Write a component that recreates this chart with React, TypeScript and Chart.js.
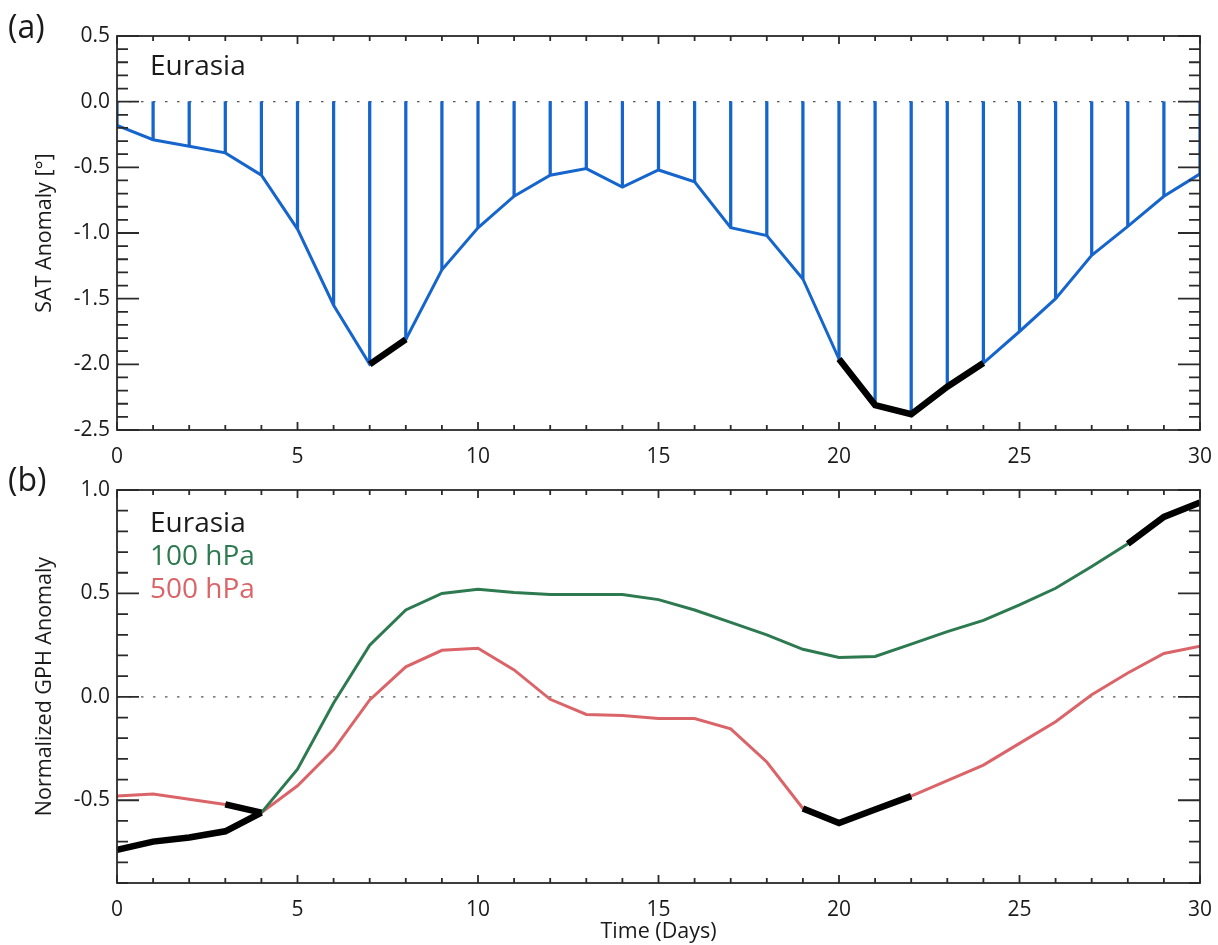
import React, { useEffect, useRef } from "react";
import { Chart, registerables } from "chart.js";

Chart.register(...registerables);

// ---------------- data ----------------
const days = [0, 1, 2, 3, 4, 5, 6, 7, 8, 9, 10, 11, 12, 13, 14, 15, 16, 17, 18, 19, 20, 21, 22, 23, 24, 25, 26, 27, 28, 29, 30];

const satAnomaly = [
  -0.18, -0.29, -0.34, -0.39, -0.56, -0.97, -1.55, -2.0, -1.81, -1.28,
  -0.96, -0.72, -0.56, -0.51, -0.65, -0.52, -0.61, -0.96, -1.02, -1.35,
  -1.96, -2.31, -2.38, -2.17, -1.99, -1.75, -1.5, -1.17, -0.95, -0.72, -0.55,
];

const gph100 = [
  -0.74, -0.7, -0.68, -0.65, -0.56, -0.35, -0.03, 0.25, 0.42, 0.5,
  0.52, 0.505, 0.495, 0.495, 0.495, 0.47, 0.42, 0.36, 0.3, 0.23,
  0.19, 0.195, 0.255, 0.315, 0.37, 0.445, 0.525, 0.63, 0.74, 0.87, 0.94,
];

const gph500 = [
  -0.48, -0.47, -0.495, -0.52, -0.56, -0.43, -0.255, -0.015, 0.145, 0.225,
  0.235, 0.13, -0.012, -0.085, -0.09, -0.105, -0.105, -0.155, -0.315, -0.54,
  -0.61, -0.545, -0.48, -0.405, -0.33, -0.225, -0.12, 0.01, 0.115, 0.21, 0.245,
];

// highlighted (significant) day ranges [start, end]
const satHighlight = [[7, 8], [20, 24]];
const gph100Highlight = [[0, 4], [28, 30]];
const gph500Highlight = [[3, 4], [19, 22]];

const xTickLabels = [0, 5, 10, 15, 20, 25, 30];
const satTickLabels = [-2.5, -2.0, -1.5, -1.0, -0.5, 0.0, 0.5];
const gphTickLabels = [-0.5, 0.0, 0.5, 1.0];

// ---------------- styling ----------------
const FONT = "'Open Sans', 'Noto Sans', 'DejaVu Sans', sans-serif";
const BLUE = "#1565cd";
const GREEN = "#2e7a50";
const RED = "#db6469";
const INK = "#1a1a1a";

const pts = (vals: number[]) => days.map((d) => ({ x: d, y: vals[d] }));
const seg = (vals: number[], r: number[]) =>
  days.filter((d) => d >= r[0] && d <= r[1]).map((d) => ({ x: d, y: vals[d] }));

// frame, inward ticks on all four sides, dotted zero line
const frameTicksPlugin = {
  id: "frameTicks",
  beforeDatasetsDraw(chart: any) {
    const { ctx, chartArea: a, scales } = chart;
    const y0 = scales.y.getPixelForValue(0);
    ctx.save();
    ctx.strokeStyle = "#555";
    ctx.lineWidth = 1.2;
    ctx.setLineDash([2.5, 9.5]);
    ctx.beginPath();
    ctx.moveTo(a.left, y0);
    ctx.lineTo(a.right, y0);
    ctx.stroke();
    ctx.restore();
  },
  afterDatasetsDraw(chart: any, _args: any, o: any) {
    const { ctx, chartArea: a, scales } = chart;
    const xs = scales.x;
    const ys = scales.y;
    ctx.save();
    ctx.strokeStyle = "#2a2a2a";
    ctx.lineWidth = 1.8;
    ctx.setLineDash([]);
    ctx.beginPath();
    for (let i = Math.round(xs.min); i <= Math.round(xs.max); i++) {
      const px = xs.getPixelForValue(i);
      const len = i % 5 === 0 ? o.xMajor : o.xMinor;
      ctx.moveTo(px, a.bottom);
      ctx.lineTo(px, a.bottom - len);
      ctx.moveTo(px, a.top);
      ctx.lineTo(px, a.top + len);
    }
    for (let i = Math.round(ys.min * 10); i <= Math.round(ys.max * 10); i++) {
      const py = ys.getPixelForValue(i / 10);
      const len = i % 5 === 0 ? o.yMajor : o.yMinor;
      ctx.moveTo(a.left, py);
      ctx.lineTo(a.left + len, py);
      ctx.moveTo(a.right, py);
      ctx.lineTo(a.right - len, py);
    }
    ctx.stroke();
    ctx.strokeRect(a.left, a.top, a.right - a.left, a.bottom - a.top);
    ctx.restore();
  },
};

// free text annotations
const textPlugin = {
  id: "texts",
  afterDraw(chart: any, _args: any, o: any) {
    const { ctx } = chart;
    ctx.save();
    for (const t of o.items || []) {
      ctx.font = t.font;
      ctx.fillStyle = t.color;
      ctx.textAlign = "left";
      ctx.textBaseline = "alphabetic";
      ctx.fillText(t.text, t.x, t.y);
    }
    ctx.restore();
  },
};

const tickFont = { family: FONT, size: 21 };
const titleFont = { family: FONT, size: 21.5 };

function xScale(height: number, title?: string) {
  return {
    type: "linear",
    min: 0,
    max: 30,
    offset: false,
    grid: { display: false, drawTicks: false },
    border: { display: false },
    ticks: { font: tickFont, color: INK, padding: 14, maxRotation: 0, autoSkip: false },
    afterBuildTicks: (s: any) => {
      s.ticks = xTickLabels.map((v) => ({ value: v }));
    },
    afterFit: (s: any) => {
      s.height = height;
      s.paddingLeft = 0;
      s.paddingRight = 0;
    },
    title: title
      ? { display: true, text: title, font: titleFont, color: INK, padding: { top: 0, bottom: 0 } }
      : { display: false },
  };
}

function yScale(min: number, max: number, ticks: number[], title: string) {
  return {
    type: "linear",
    min,
    max,
    grid: { display: false, drawTicks: false },
    border: { display: false },
    ticks: {
      font: tickFont,
      color: INK,
      padding: 7,
      callback: (v: any) => Number(v).toFixed(1),
    },
    afterBuildTicks: (s: any) => {
      s.ticks = ticks.map((v) => ({ value: v }));
    },
    afterFit: (s: any) => {
      s.width = 117;
      s.paddingTop = 0;
      s.paddingBottom = 0;
    },
    title: { display: true, text: title, font: titleFont, color: INK, padding: { top: 32, bottom: 0 } },
  };
}

const thick = (data: any[], color = "#000") => ({
  type: "line",
  data,
  borderColor: color,
  borderWidth: 6.5,
  pointRadius: 0,
  tension: 0,
  borderCapStyle: "butt",
  borderJoinStyle: "miter",
  order: 0,
});

function configA(): any {
  return {
    type: "line",
    data: {
      datasets: [
        ...satHighlight.map((r) => thick(seg(satAnomaly, r))),
        {
          type: "line",
          data: pts(satAnomaly),
          borderColor: BLUE,
          borderWidth: 3,
          pointRadius: 0,
          tension: 0,
          order: 1,
        },
        {
          type: "bar",
          data: pts(satAnomaly),
          backgroundColor: BLUE,
          borderWidth: 0,
          barThickness: 2.6,
          order: 2,
        },
      ],
    },
    plugins: [frameTicksPlugin, textPlugin],
    options: {
      responsive: false,
      animation: false,
      events: [],
      layout: { padding: { left: 0, right: 18, top: 36, bottom: 0 } },
      scales: {
        x: xScale(42),
        y: yScale(-2.5, 0.5, satTickLabels, "SAT Anomaly [°]"),
      },
      plugins: {
        legend: { display: false },
        tooltip: { enabled: false },
        frameTicks: { xMajor: 8, xMinor: 5, yMajor: 22, yMinor: 11 },
        texts: {
          items: [
            { text: "(a)", x: 8, y: 38, font: `32px ${FONT}`, color: INK },
            { text: "Eurasia", x: 150, y: 75, font: `28px ${FONT}`, color: INK },
          ],
        },
      },
    },
  };
}

function configB(): any {
  return {
    type: "line",
    data: {
      datasets: [
        ...gph100Highlight.map((r) => thick(seg(gph100, r))),
        ...gph500Highlight.map((r) => thick(seg(gph500, r))),
        {
          type: "line",
          data: pts(gph100),
          borderColor: GREEN,
          borderWidth: 3,
          pointRadius: 0,
          tension: 0,
          order: 1,
        },
        {
          type: "line",
          data: pts(gph500),
          borderColor: RED,
          borderWidth: 3,
          pointRadius: 0,
          tension: 0,
          order: 1,
        },
      ],
    },
    plugins: [frameTicksPlugin, textPlugin],
    options: {
      responsive: false,
      animation: false,
      events: [],
      layout: { padding: { left: 0, right: 18, top: 30, bottom: 0 } },
      scales: {
        x: xScale(62, "Time (Days)"),
        y: yScale(-0.9, 1.0, gphTickLabels, "Normalized GPH Anomaly"),
      },
      plugins: {
        legend: { display: false },
        tooltip: { enabled: false },
        frameTicks: { xMajor: 8, xMinor: 5, yMajor: 22, yMinor: 11 },
        texts: {
          items: [
            { text: "(b)", x: 8, y: 31, font: `32px ${FONT}`, color: INK },
            { text: "Eurasia", x: 150, y: 72, font: `28px ${FONT}`, color: INK },
            { text: "100 hPa", x: 150, y: 105, font: `28px ${FONT}`, color: GREEN },
            { text: "500 hPa", x: 150, y: 138, font: `28px ${FONT}`, color: RED },
          ],
        },
      },
    },
  };
}

function ChartCanvas({ top, height, make }: { top: number; height: number; make: () => any }) {
  const ref = useRef<HTMLCanvasElement | null>(null);
  useEffect(() => {
    if (!ref.current) return;
    const chart = new Chart(ref.current, make());
    return () => chart.destroy();
  }, [make]);
  return (
    <canvas
      ref={ref}
      width={1218}
      height={height}
      style={{ position: "absolute", left: 0, top, width: 1218, height, display: "block" }}
    />
  );
}

export default function App() {
  return (
    <div
      style={{
        position: "absolute",
        left: 0,
        top: 0,
        width: 1218,
        height: 945,
        background: "#fff",
        overflow: "hidden",
      }}
    >
      <ChartCanvas top={0} height={472} make={configA} />
      <ChartCanvas top={460} height={485} make={configB} />
    </div>
  );
}
